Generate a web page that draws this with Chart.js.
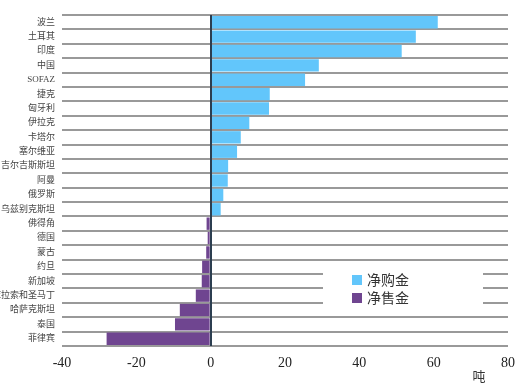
<!DOCTYPE html>
<html><head><meta charset="utf-8">
<script src="https://cdn.jsdelivr.net/npm/chart.js@4.4.1/dist/chart.umd.min.js"></script>
<style>html,body{margin:0;padding:0;background:#fff;}#wrap{width:527px;height:389px;position:relative;}</style>
</head><body><div id="wrap"><canvas id="c" width="527" height="389"></canvas></div>
<script>
const categories = ["波兰","土耳其","印度","中国","SOFAZ","捷克","匈牙利","伊拉克","卡塔尔","塞尔维亚","吉尔吉斯斯坦","阿曼","俄罗斯","乌兹别克斯坦","佛得角","德国","蒙古","约旦","新加坡","库拉索和圣马丁","哈萨克斯坦","泰国","菲律宾"];
const netBuy  = [61.1,55.2,51.4,29.1,25.4,15.9,15.7,10.4,8.1,7.1,4.7,4.6,3.4,2.7,null,null,null,null,null,null,null,null,null];
const netSell = [null,null,null,null,null,null,null,null,null,null,null,null,null,null,-1.1,-0.8,-1.2,-2.3,-2.4,-4.0,-8.3,-9.6,-28.0];
const seriesNames = ["净购金","净售金"];
const xTicks = [-40,-20,0,20,40,60,80];
const unitLabel = "吨";
const colors = ["#62c6fb","#6f4590"];

const serif = "'Liberation Serif','Noto Sans CJK SC',serif";

const overlay = {
  id:'overlay',
  afterDraw(chart){
    const ctx = chart.ctx, a = chart.chartArea;
    ctx.save();
    const bx = a.left + 261, by = a.top + 250;
    ctx.fillStyle = '#fff';
    ctx.fillRect(bx, by, 160, 45);
    chart.data.datasets.forEach((ds,i)=>{
      const y = by + 15 + i*18;
      ctx.fillStyle = ds.backgroundColor;
      ctx.fillRect(bx+29, y-5, 10, 10);
      ctx.fillStyle = '#333';
      ctx.font = "14px 'Noto Sans CJK SC',sans-serif";
      ctx.textBaseline = 'middle';
      ctx.textAlign = 'left';
      ctx.fillText(ds.label, bx+44, y);
    });
    ctx.fillStyle = '#333';
    ctx.font = "13px 'Noto Sans CJK SC',serif";
    ctx.textAlign = 'center';
    ctx.textBaseline = 'middle';
    ctx.fillText(unitLabel, a.right - 29, 376);
    ctx.restore();
  }
};

new Chart(document.getElementById('c'), {
  type:'bar',
  data:{
    labels: categories,
    datasets:[
      {label:seriesNames[0], data:netBuy, backgroundColor:colors[0], barPercentage:1, categoryPercentage:0.86},
      {label:seriesNames[1], data:netSell, backgroundColor:colors[1], barPercentage:1, categoryPercentage:0.86}
    ]
  },
  options:{
    indexAxis:'y',
    responsive:false,
    animation:false,
    layout:{padding:{left:0,right:19,top:15,bottom:0}},
    plugins:{legend:{display:false}, tooltip:{enabled:false}},
    scales:{
      x:{
        min:xTicks[0], max:xTicks[xTicks.length-1],
        afterBuildTicks(s){ s.ticks = xTicks.map(v=>({value:v})); },
        grid:{
          color:(c)=> c.tick && c.tick.value===0 ? '#2c3e50' : 'rgba(0,0,0,0)',
          lineWidth:(c)=> c.tick && c.tick.value===0 ? 2 : 0,
          drawTicks:false, z:2
        },
        border:{display:false},
        ticks:{color:'#222', font:{family:serif, size:14}, padding:9},
        afterFit(s){ s.height = 389 - 346; }
      },
      y:{
        stacked:true,
        z:1,
        grid:{color:'#999', lineWidth:2, offset:true, drawTicks:false},
        border:{display:false},
        ticks:{color:'#444', font:{family:serif, size:9}, padding:7, autoSkip:false},
        afterFit(s){ s.width = 62; }
      }
    }
  },
  plugins:[overlay]
});
</script></body></html>
